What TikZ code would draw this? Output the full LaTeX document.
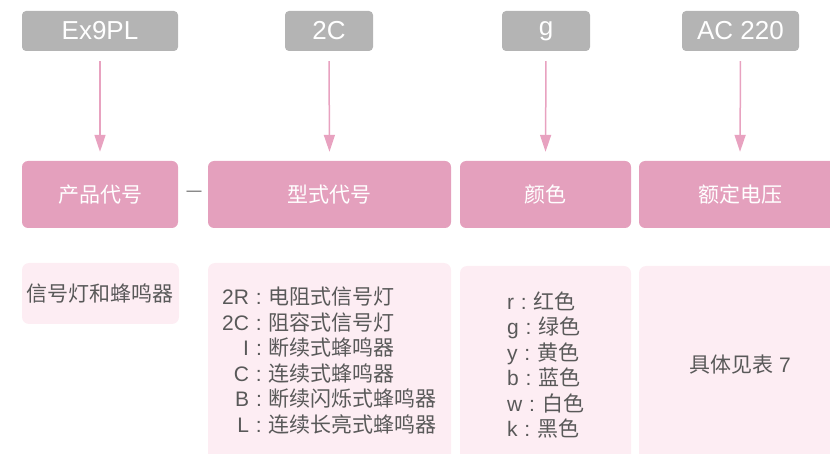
\documentclass[tikz,border=0pt]{standalone}
\usepackage{fontspec}
\setmainfont{Liberation Sans}
\newfontfamily\cjk{Noto Sans CJK SC}
\usetikzlibrary{arrows.meta}
\definecolor{greybox}{HTML}{B4B4B4}
\definecolor{pinkbox}{HTML}{E4A0BD}
\definecolor{lightpink}{HTML}{FDEDF3}
\definecolor{arrowpink}{HTML}{E8A2C0}
\definecolor{txtgrey}{HTML}{595959}
\newcommand{\sepcolon}{\hspace{7pt}:\hspace{7pt}}
\tikzset{
  codebox/.style={fill=greybox, rounded corners=4pt, text=white, minimum height=40pt,
    inner sep=0pt, font=\fontsize{26}{30}\selectfont},
  catbox/.style={fill=pinkbox, rounded corners=6pt, text=white, minimum height=67pt,
    inner sep=0pt, font=\fontsize{21}{25.5}\selectfont\cjk},
  descbox/.style={fill=lightpink, rounded corners=7pt, text=txtgrey,
    inner sep=0pt, font=\fontsize{21}{25.5}\selectfont},
  flow/.style={draw=arrowpink, line width=1.5pt, -{Triangle[length=17pt,width=11pt]},
    shorten <=10pt, shorten >=9pt}
}
\begin{document}
\begin{tikzpicture}[x=1pt,y=-1pt]
\useasboundingbox (0,0) rectangle (830,454);
\clip (0,0) rectangle (830,454);
% code boxes
\node[codebox, minimum width=156pt] (g1) at (100,31) {Ex9PL};
\node[codebox, minimum width=88pt] (g2) at (329,31) {2C};
\node[codebox, minimum width=88pt] (g3) at (546,31) {g};
\node[codebox, minimum width=117pt] (g4) at (740.5,31) {AC 220};
% category boxes
\node[catbox, minimum width=156pt] (p1) at (100,194.5) {产品代号};
\node[catbox, minimum width=243pt] (p2) at (329.5,194.5) {型式代号};
\node[catbox, minimum width=171pt] (p3) at (545.5,194.5) {颜色};
\node[catbox, minimum width=202pt] (p4) at (740,194.5) {额定电压};
\node[text=txtgrey, inner sep=0pt, font=\fontsize{15}{18}\selectfont] (dash) at (194,193) {—};
% arrows
\draw[flow] (g1.south) -- (p1.north);
\draw[flow] (g2.south) -- (p2.north);
\draw[flow] (g3.south) -- (p3.north);
\draw[flow] (g4.south) -- (p4.north);
% description boxes
\node[descbox, minimum width=157pt, minimum height=61pt] (b1) at (100.5,293.5) {\raisebox{1pt}{\cjk 信号灯和蜂鸣器}};
\node[descbox, minimum width=243pt, minimum height=201pt] (b2) at (329.5,363.5) {%
  \setlength{\tabcolsep}{0pt}%
  \begin{tabular}{r@{}l}
  2R & \sepcolon{\cjk 电阻式信号灯}\\
  2C & \sepcolon{\cjk 阻容式信号灯}\\
  I & \sepcolon{\cjk 断续式蜂鸣器}\\
  C & \sepcolon{\cjk 连续式蜂鸣器}\\
  B & \sepcolon{\cjk 断续闪烁式蜂鸣器}\\
  L & \sepcolon{\cjk 连续长亮式蜂鸣器}
  \end{tabular}};
\node[descbox, minimum width=171pt, minimum height=198pt, align=left] (b3) at (545.5,365) {%
  r\sepcolon{\cjk 红色}\\
  g\sepcolon{\cjk 绿色}\\
  y\sepcolon{\cjk 黄色}\\
  b\sepcolon{\cjk 蓝色}\\
  w\sepcolon{\cjk 白色}\\
  k\sepcolon{\cjk 黑色}};
\node[descbox, minimum width=202pt, minimum height=198pt] (b4) at (740,365) {{\cjk 具体见表} 7};
\end{tikzpicture}
\end{document}
